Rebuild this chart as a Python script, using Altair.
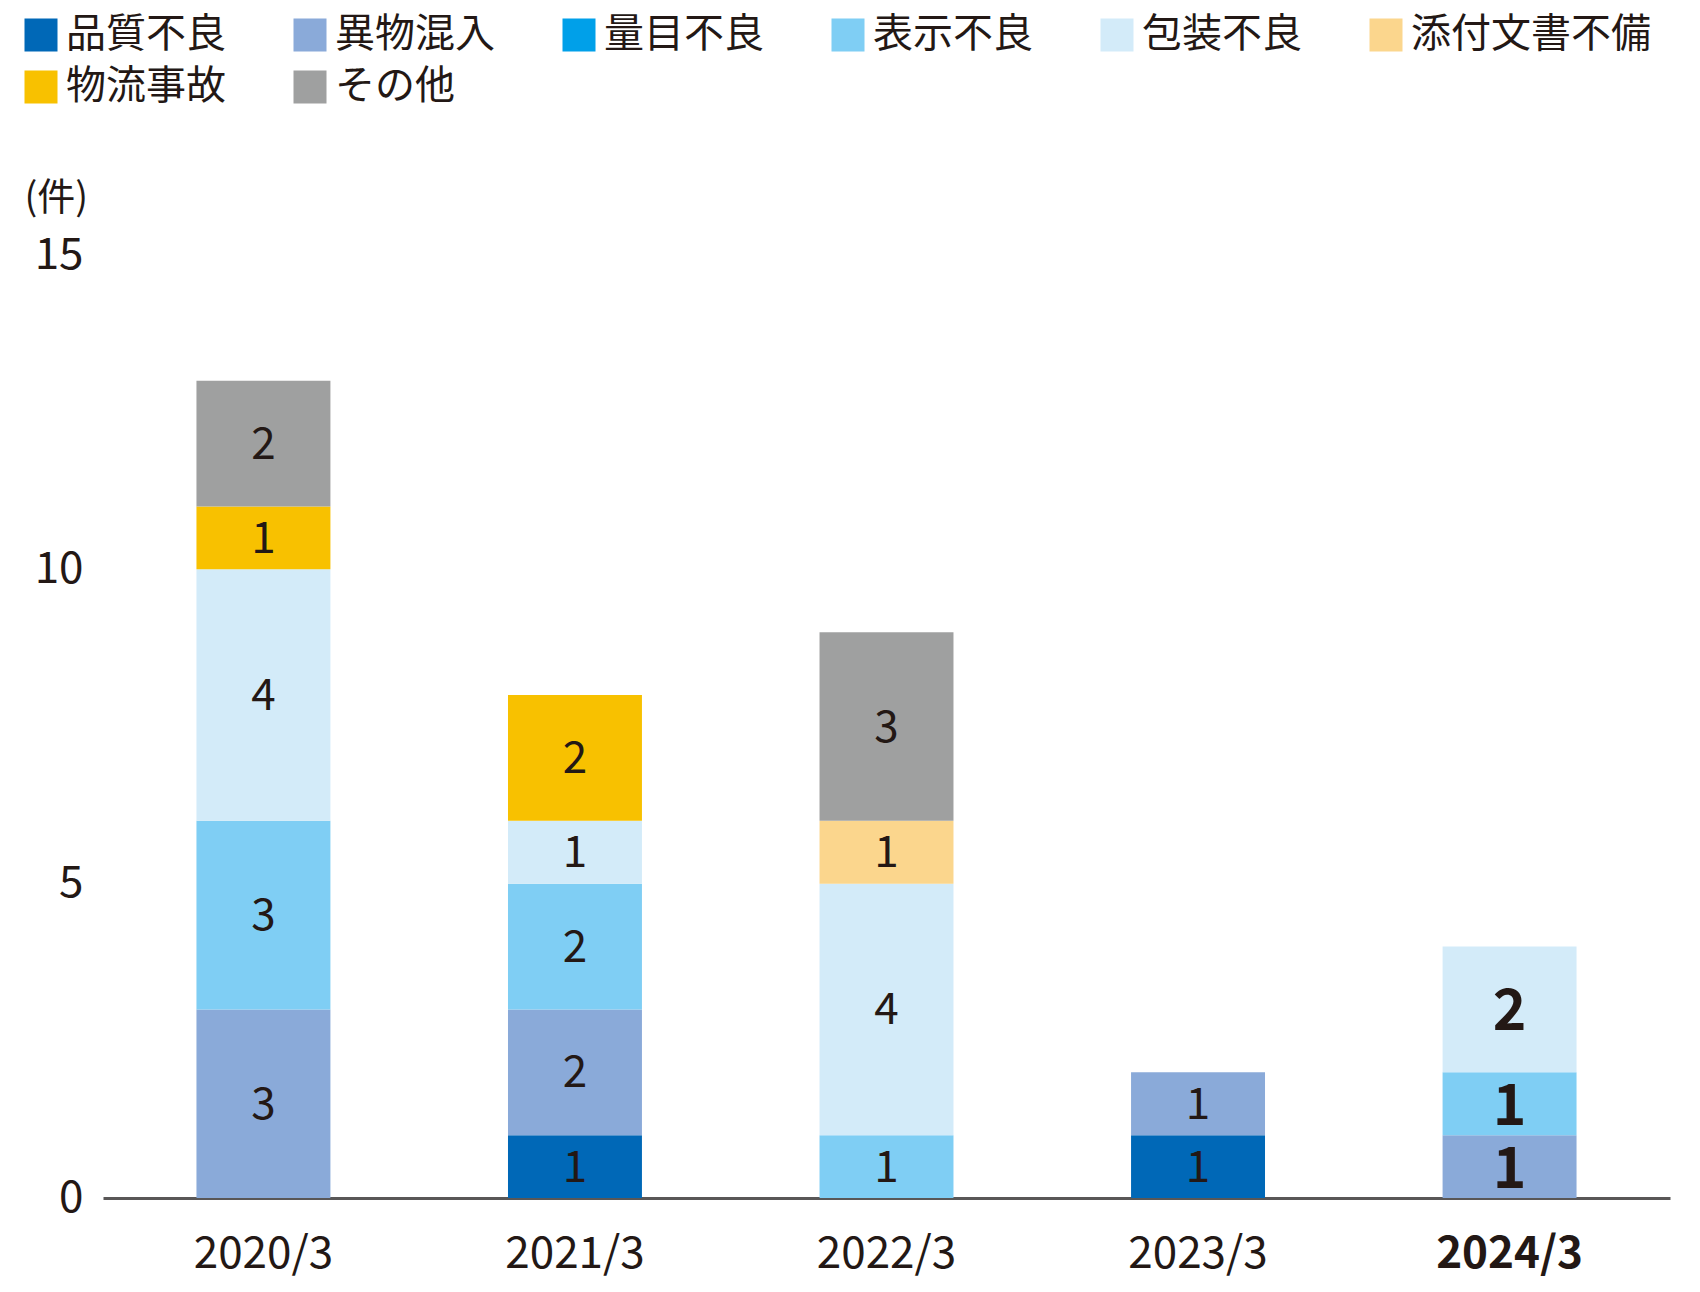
import altair as alt
import pandas as pd

years = ["2020/3", "2021/3", "2022/3", "2023/3", "2024/3"]
categories = ["品質不良", "異物混入", "量目不良", "表示不良", "包装不良", "添付文書不備", "物流事故", "その他"]
colors = ["#0068b7", "#8aaad9", "#00a0e9", "#7fcef4", "#d3ebf9", "#fbd68d", "#f8c100", "#9fa0a0"]

# counts per category, one list per category (order follows `years`)
hinshitsu = [0, 1, 0, 1, 0]
ibutsu = [3, 2, 0, 1, 1]
ryomoku = [0, 0, 0, 0, 0]
hyoji = [3, 2, 1, 0, 1]
hoso = [4, 1, 4, 0, 2]
tenpu = [0, 0, 1, 0, 0]
butsuryu = [1, 2, 0, 0, 0]
sonota = [2, 0, 3, 0, 0]
series = [hinshitsu, ibutsu, ryomoku, hyoji, hoso, tenpu, butsuryu, sonota]

rows = []
for ci, (cat, vals) in enumerate(zip(categories, series)):
    for y, v in zip(years, vals):
        if v > 0:
            rows.append({"year": y, "cat": cat, "value": v, "order": ci})
df = pd.DataFrame(rows)

FONT = "Noto Sans CJK JP"
TXT = "#231815"

base = alt.Chart(df).transform_stack(
    stack="value", groupby=["year"], sort=[alt.SortField("order", order="ascending")], as_=["y0", "y1"]
).transform_calculate(mid="(datum.y0 + datum.y1) / 2")

xenc = alt.X(
    "year:N",
    sort=years,
    title=None,
    scale=alt.Scale(paddingInner=0.57, paddingOuter=0.3),
    axis=alt.Axis(
        labelAngle=0,
        labelFont=FONT,
        labelFontSize=44,
        labelColor=TXT,
        labelPadding=34,
        labelFontWeight={"condition": {"test": "datum.value == '2024/3'", "value": "bold"}, "value": "normal"},
        ticks=False,
        domainColor="#595757",
        domainWidth=3,
        grid=False,
    ),
)

bars = base.mark_bar().encode(
    x=xenc,
    y=alt.Y(
        "y0:Q",
        scale=alt.Scale(domain=[0, 15], nice=False),
        axis=alt.Axis(
            values=[0, 5, 10, 15],
            format="d",
            domain=False,
            ticks=False,
            grid=False,
            labelFont=FONT,
            labelFontSize=44,
            labelColor=TXT,
            labelPadding=20,
            title="(件)",
            titleFont=FONT,
            titleFontSize=38,
            titleFontWeight="normal",
            titleColor=TXT,
            titleAngle=0,
            titleAlign="left",
            titleBaseline="middle",
            titleX=-79,
            titleY=-57,
        ),
    ),
    y2="y1:Q",
    color=alt.Color(
        "cat:N",
        scale=alt.Scale(domain=categories, range=colors),
        legend=alt.Legend(
            title=None,
            orient="none",
            legendX=-82,
            legendY=-240,
            direction="horizontal",
            columns=6,
            symbolType="square",
            symbolSize=1089,
            symbolStrokeWidth=0,
            symbolOpacity=1,
            labelFont=FONT,
            labelFontSize=40,
            labelColor=TXT,
            labelOffset=5,
            labelLimit=400,
            columnPadding=64,
            rowPadding=12,
            padding=0,
        ),
    ),
)

labels_normal = base.transform_filter("datum.year != '2024/3'").mark_text(
    font=FONT, fontSize=44, color=TXT, baseline="middle", align="center", dy=2
).encode(x=alt.X("year:N", sort=years), y=alt.Y("mid:Q"), text="value:Q")

labels_bold = base.transform_filter("datum.year == '2024/3'").mark_text(
    font=FONT, fontSize=57, fontWeight="bold", color=TXT, baseline="middle", align="center", dy=4
).encode(x=alt.X("year:N", sort=years), y=alt.Y("mid:Q"), text="value:Q")

chart = alt.layer(bars, labels_normal, labels_bold).properties(
    width=1567,
    height=943,
    background="white",
    autosize=alt.AutoSizeParams(type="none"),
    padding={"left": 95, "top": 247, "right": 14, "bottom": 82},
).configure_view(strokeWidth=0, stroke=None)

chart.save("out.html", embed_options={"renderer": "svg", "actions": False})
